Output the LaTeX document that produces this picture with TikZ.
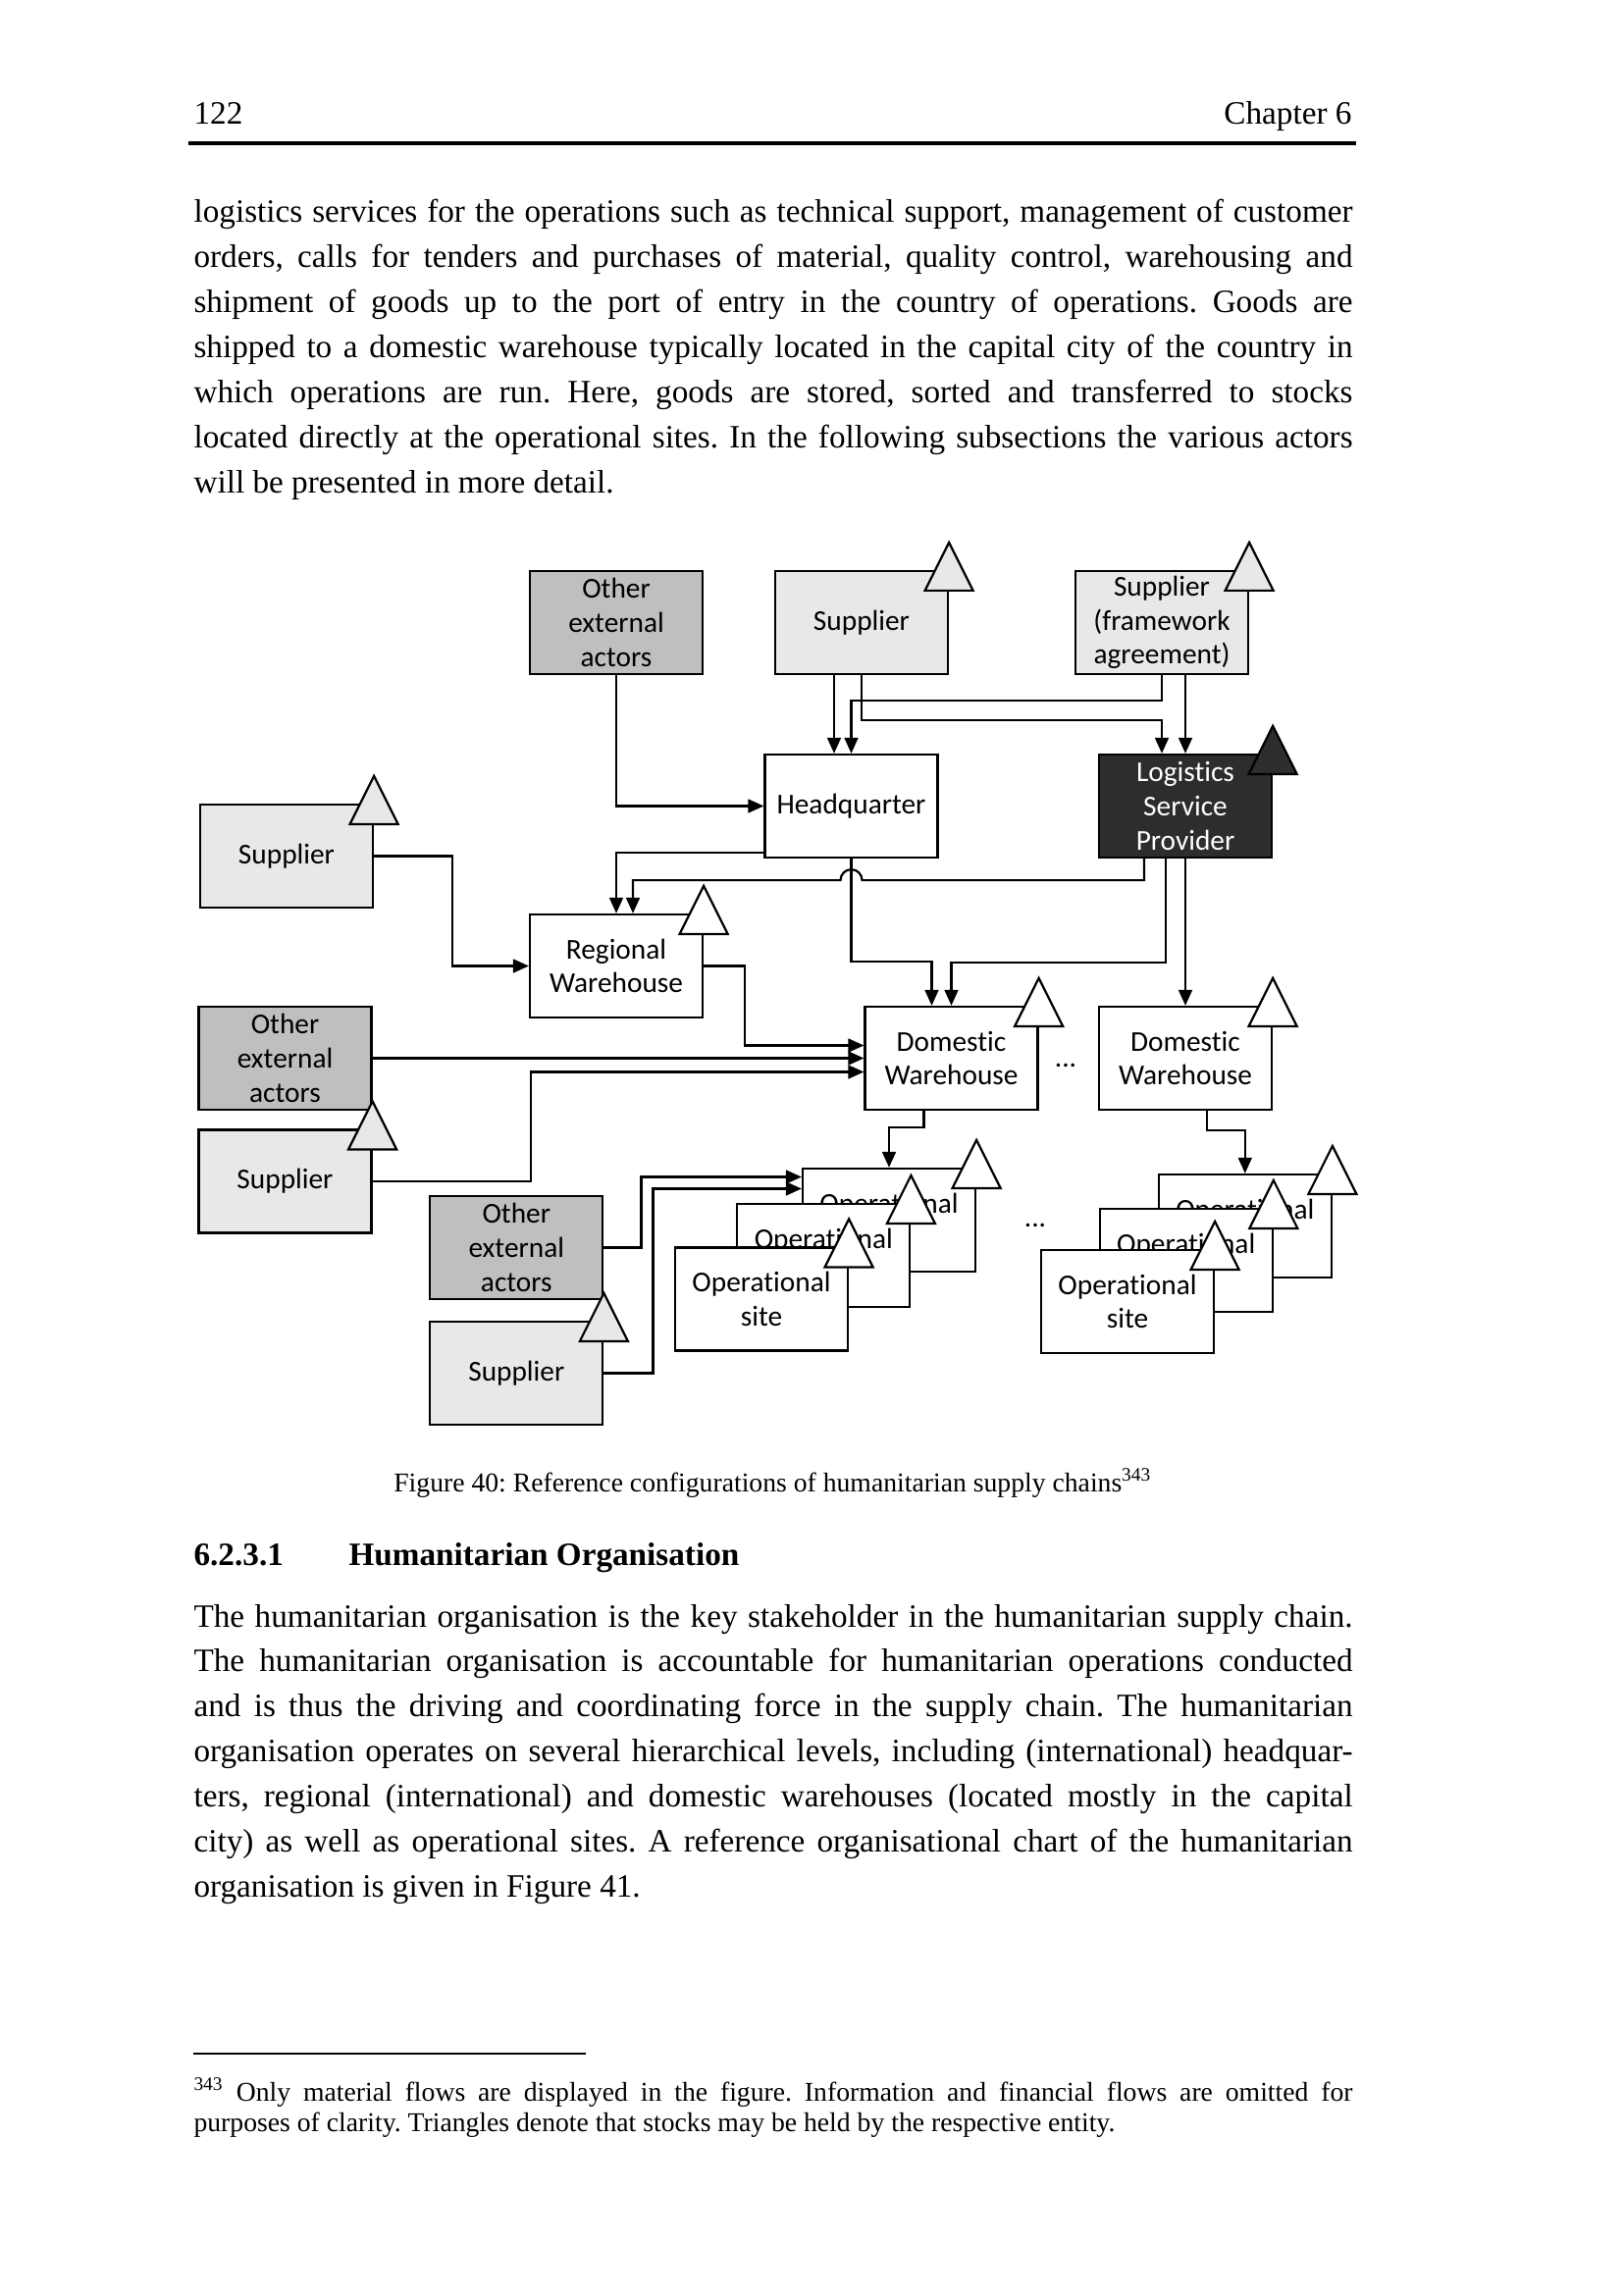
\documentclass[tikz,border=0pt]{standalone}
\usepackage{fontspec}
\setmainfont{Liberation Serif}
\newfontfamily\boxfont[Ligatures=NoCommon]{Carlito}
\usetikzlibrary{arrows.meta}
\frenchspacing

\newlength\px
\setlength\px{0.0127cm}
\definecolor{supgray}{RGB}{232,232,232}
\definecolor{othergray}{RGB}{191,191,191}
\definecolor{lspdark}{RGB}{45,45,45}

% justified line of body text
\newcommand\jline[1]{\makebox[1181\px][s]{#1}}
% stock triangle on the upper right corner of a node
\newcommand\stock[2][white]{%
  \filldraw[fill=#1, line width=0.8pt]
    ([yshift=28\px]#2.north east) -- ([xshift=24.5\px,yshift=-21\px]#2.north east)
    -- ([xshift=-24.5\px,yshift=-21\px]#2.north east) -- cycle;}

\begin{document}
\begin{tikzpicture}[
        x=0.0127cm, y=-0.0127cm,
        body/.style={
            anchor=base west,
            inner sep=0pt,
            font=\fontsize{12}{14}\selectfont
        },
        note/.style={
            body,
            font=\fontsize{10}{12}\selectfont
        },
        box/.style={
            rectangle,
            draw,
            line width=0.8pt,
            fill=white,
            align=center,
            minimum width=176\px,
            minimum height=105\px,
            inner sep=0pt,
            font=\boxfont\fontsize{10.6}{12.5}\selectfont
        },
        supplier/.style={box, fill=supgray},
        other/.style={box, fill=othergray},
        lspbox/.style={box, fill=lspdark, text=white},
        arrow/.style={
            -{Triangle[length=5.8pt,width=5pt]},
            line width=0.8pt
        }
    ]

        \fill[white] (0,0) rectangle (1654,2339);
        \useasboundingbox (0,0) rectangle (1654,2339);

        % running head
        \node[body] (pageno) at (197,127) {122};
        \node[body, anchor=base east] (chapter) at (1378,127) {Chapter 6};
        \draw[line width=1.2pt] (192,146) -- (1382,146);

        % text above the figure
        \node[body] (p1a) at (197,226.7) {\jline{logistics services for the operations such as technical support, management of customer}};
        \node[body] (p1b) at (197,272.75) {\jline{orders, calls for tenders and purchases of material, quality control, warehousing and}};
        \node[body] (p1c) at (197,318.8) {\jline{shipment of goods up to the port of entry in the country of operations. Goods are}};
        \node[body] (p1d) at (197,364.85) {\jline{shipped to a domestic warehouse typically located in the capital city of the country in}};
        \node[body] (p1e) at (197,410.9) {\jline{which operations are run. Here, goods are stored, sorted and transferred to stocks}};
        \node[body] (p1f) at (197,456.95) {\jline{located directly at the operational sites. In the following subsections the various actors}};
        \node[body] (p1g) at (197,503) {will be presented in more detail.};

        % figure: top row
        \node[other] (oea1) at (628,634.5) {Other\\external\\actors};
        \node[supplier] (sup1) at (878,634.5) {Supplier};
        \stock[supgray]{sup1}
        \node[supplier] (supfa) at (1184,634.5) {Supplier\\(framework\\agreement)};
        \stock[supgray]{supfa}

        \node[box] (hq) at (867.5,821.5) {Headquarter};
        \node[lspbox] (lsp) at (1208,821.5) {Logistics\\Service\\Provider};
        \stock[lspdark]{lsp}
        \node[supplier] (sup2) at (292,872.5) {Supplier};
        \stock[supgray]{sup2}

        \node[box] (rw) at (628,984.5) {Regional\\Warehouse};
        \stock{rw}

        \node[other] (oea2) at (290.5,1078.5) {Other\\external\\actors};
        \node[box] (dw1) at (969.5,1078.5) {Domestic\\Warehouse};
        \stock{dw1}
        \node[box] (dw2) at (1208,1078.5) {Domestic\\Warehouse};
        \stock{dw2}
        \node[font=\boxfont\fontsize{10.6}{12.5}\selectfont, anchor=base] (dots1) at (1086,1087) {...};
        \node[supplier] (sup3) at (290.5,1204) {Supplier};
        \stock[supgray]{sup3}

        \node[other] (oea3) at (526.3,1271.5) {Other\\external\\actors};
        \node[supplier] (sup4) at (526.3,1399.5) {Supplier};
        \stock[supgray]{sup4}

        % operational sites
        \node[box] (os1a) at (906,1243.5) {Operational\\site};
        \stock{os1a}
        \node[box] (os1b) at (839.3,1279.5) {Operational\\site};
        \stock{os1b}
        \node[box] (os1c) at (776,1324) {Operational\\site};
        \stock{os1c}
        \node[font=\boxfont\fontsize{10.6}{12.5}\selectfont, anchor=base] (dots2) at (1055,1250) {...};
        \node[box] (os2a) at (1268.8,1249.5) {Operational\\site};
        \stock{os2a}
        \node[box] (os2b) at (1208.7,1284.5) {Operational\\site};
        \stock{os2b}
        \node[box] (os2c) at (1149,1326.5) {Operational\\site};
        \stock{os2c}

        \coordinate (hqin) at ([xshift=-17.5\px]hq.north);
        \coordinate (lspin) at ([xshift=-24\px]lsp.north);

        \draw[arrow] (oea1.south) |- (hq.west);
        \draw[arrow] (sup1.south -| hqin) -- (hqin);
        \draw[arrow] (sup1.south) -- ++(0,46) -| (lspin);
        \draw[arrow] (supfa.south) -- ++(0,26) -| (hq.north);
        \draw[arrow] (supfa.south -| lsp.north) -- (lsp.north);
        \draw[arrow] ([xshift=-42\px]lsp.south) -- ++(0,22)
            -- ([xshift=11\px,yshift=-22\px]hq.south)
            arc[start angle=0, end angle=180, radius=11\px]
            -| ([xshift=17\px]rw.north);
        \draw[arrow] ([yshift=6\px]hq.south west) -| (rw.north);
        \draw[arrow] (hq.south) -- ++(0,105) -| ([xshift=-20\px]dw1.north);
        \draw[arrow] ([xshift=-20\px]lsp.south) -- ++(0,106) -| (dw1.north);
        \draw[arrow] (lsp.south) -- (dw2.north);
        \draw[arrow] (sup2.east) -- ++(80,0) |- (rw.west);
        \draw[arrow] (rw.east) -- ++(42,0) |- ([yshift=13\px]dw1.west);
        \draw[arrow] (oea2.east) -- (dw1.west);
        \draw[arrow] (sup3.east) -- ++(161,0) |- ([yshift=-14\px]dw1.west);
        \draw[arrow] ([xshift=-28\px]dw1.south) -- ++(0,17) -| (os1a.north);
        \draw[arrow] ([xshift=22\px]dw2.south) -- ++(0,20) -| (os2a.north);
        \draw[arrow] (oea3.east) -- ++(38,0) |- ([yshift=44\px]os1a.west);
        \draw[arrow] (sup4.east) -- ++(50,0) |- ([yshift=32\px]os1a.west);

        % caption and section
        \node[note, anchor=base] (caption) at (787.5,1520) {Figure 40: Reference configurations of humanitarian supply chains\textsuperscript{343}};
        \node[body, font=\fontsize{12}{14}\selectfont\bfseries] (secno) at (197,1595) {6.2.3.1};
        \node[body, font=\fontsize{12}{14}\selectfont\bfseries] (sectitle) at (355,1595) {Humanitarian Organisation};

        \node[body] (p2a) at (197,1658) {\jline{The humanitarian organisation is the key stakeholder in the humanitarian supply chain.}};
        \node[body] (p2b) at (197,1703.85) {\jline{The humanitarian organisation is accountable for humanitarian operations conducted}};
        \node[body] (p2c) at (197,1749.7) {\jline{and is thus the driving and coordinating force in the supply chain. The humanitarian}};
        \node[body] (p2d) at (197,1795.55) {\jline{organisation operates on several hierarchical levels, including (international) headquar-}};
        \node[body] (p2e) at (197,1841.4) {\jline{ters, regional (international) and domestic warehouses (located mostly in the capital}};
        \node[body] (p2f) at (197,1887.25) {\jline{city) as well as operational sites. A reference organisational chart of the humanitarian}};
        \node[body] (p2g) at (197,1933.1) {organisation is given in Figure 41.};

        % footnote
        \draw[line width=0.8pt] (197,2093) -- (597,2093);
        \node[note] (fn1) at (197,2141) {\jline{\textsuperscript{343} Only material flows are displayed in the figure. Information and financial flows are omitted for}};
        \node[note] (fn2) at (197,2172) {purposes of clarity. Triangles denote that stocks may be held by the respective entity.};

    \end{tikzpicture}
\end{document}
